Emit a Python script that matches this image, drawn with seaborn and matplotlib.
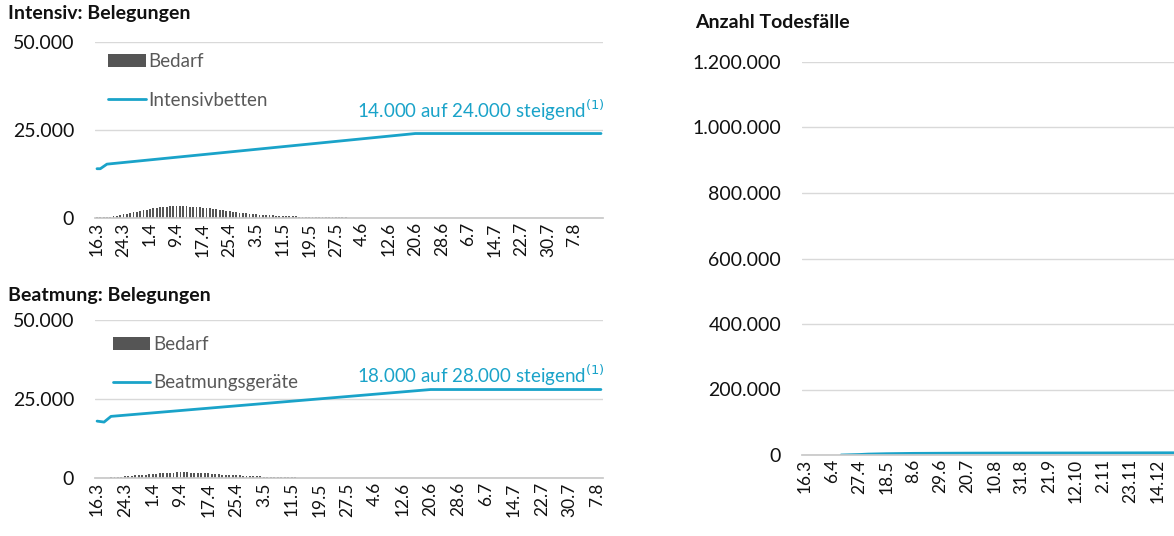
import matplotlib
matplotlib.use("Agg")
import matplotlib.pyplot as plt
import seaborn as sns
from matplotlib.ticker import FuncFormatter
from matplotlib.patches import Patch
from matplotlib.lines import Line2D

# --- data ---
# Intensiv: daily Bedarf from 16.3 on
icu_bedarf = [150, 200, 250, 300, 400, 500, 600,
              800, 1000, 1200, 1400, 1600, 1800, 2000,
              2200, 2400, 2600, 2800, 2950, 3050, 3150,
              3250, 3300, 3350, 3400, 3400, 3350, 3300,
              3250, 3200, 3100, 3000, 2900, 2800, 2700,
              2600, 2500, 2400, 2250, 2100, 1950, 1800,
              1650, 1500, 1400, 1300, 1200, 1100, 1000,
              950, 900, 850, 800, 750, 700, 650,
              600, 560, 520, 480, 450, 420, 390,
              360, 330, 300, 280, 260, 240, 220,
              200, 190, 180, 170, 160, 150, 140,
              130, 130, 120, 120, 110, 110, 100,
              100, 100, 90, 90, 90, 90, 80,
              80, 80, 80, 80, 70, 70, 70,
              70, 70, 70, 60, 60, 60, 60,
              60, 60, 60, 60, 50, 50, 50,
              50, 50, 50, 50, 50, 50, 50,
              50, 50, 50, 50, 50, 50, 50,
              50, 50, 50, 50, 50, 50, 50,
              50, 50, 50, 50, 50, 50, 50,
              50, 50, 50, 50, 50, 50, 50,
              50, 50, 50, 50, 50, 50]
icu_beds_day = [0, 1, 3, 96, 152]
icu_beds = [14000, 14000, 15300, 24000, 24000]

# Beatmung: daily Bedarf from 16.3 on
vent_bedarf = [50, 80, 100, 150, 200, 250, 300,
               400, 500, 600, 700, 800, 900, 1000,
               1100, 1200, 1300, 1400, 1500, 1550, 1600,
               1650, 1700, 1750, 1800, 1800, 1750, 1700,
               1650, 1600, 1550, 1500, 1450, 1400, 1300,
               1200, 1100, 1000, 950, 900, 850, 800,
               750, 700, 650, 600, 550, 500, 450,
               400, 360, 330, 300, 270, 240, 210,
               190, 170, 150, 130, 120, 110, 100,
               90, 90, 80, 80, 70, 70, 60,
               60, 60, 50, 50, 50, 50, 50,
               40, 40, 40, 40, 40, 40, 40,
               40, 40, 40, 40, 40, 40, 40,
               30, 30, 30, 30, 30, 30, 30,
               30, 30, 30, 30, 30, 30, 30,
               30, 30, 30, 30, 30, 30, 30,
               30, 30, 30, 30, 30, 30, 30,
               30, 30, 30, 30, 30, 30, 30,
               30, 30, 30, 30, 30, 30, 30,
               30, 30, 30, 30, 30, 30, 30,
               30, 30, 30, 30, 30, 30]
vent_dev_day = [0, 2, 4, 96, 145]
vent_dev = [18000, 17700, 19500, 28000, 28000]

left_ticks = ["16.3", "24.3", "1.4", "9.4", "17.4", "25.4", "3.5", "11.5",
              "19.5", "27.5", "4.6", "12.6", "20.6", "28.6", "6.7", "14.7",
              "22.7", "30.7", "7.8"]

# Anzahl Todesfälle
death_day = [28, 42, 49, 63, 84, 105, 126, 147, 168, 189, 210, 231, 252, 273, 286]
deaths = [0, 1500, 2800, 4000, 5000, 5400, 5700, 5900, 6000, 6100, 6200,
          6300, 6500, 6700, 6800]
right_ticks = ["16.3", "6.4", "27.4", "18.5", "8.6", "29.6", "20.7", "10.8",
               "31.8", "21.9", "12.10", "2.11", "23.11", "14.12"]

TEAL = "#1aa3c9"
GREY_BAR = "#555555"
GRID = "#d9d9d9"

sns.set_theme(style="white")
plt.rcParams["font.family"] = ["Lato", "DejaVu Sans"]

fmt = FuncFormatter(lambda v, p: f"{int(v):,}".replace(",", "."))

fig = plt.figure(figsize=(11.74, 5.36), dpi=100)


def style_axis(ax, yticks, pad):
    ax.set_yticks(yticks)
    ax.yaxis.set_major_formatter(fmt)
    ax.grid(axis="y", color=GRID, lw=1)
    ax.set_axisbelow(True)
    for s in ["top", "right", "left"]:
        ax.spines[s].set_visible(False)
    ax.spines["bottom"].set_color("#c8c8c8")
    ax.tick_params(axis="y", length=0, pad=pad, labelsize=14, labelcolor="#111111")
    ax.tick_params(axis="x", length=0, pad=3, labelsize=12.5, labelcolor="#111111",
                   labelrotation=90)
    ax.set_xlabel("")
    ax.set_ylabel("")


def left_chart(rect, bedarf, ldays, lvals, lname, note, leg_anchor, note_y):
    ax = fig.add_axes(rect)
    days = list(range(len(bedarf)))
    sns.barplot(x=days, y=bedarf, native_scale=True, color=GREY_BAR, saturation=1,
                width=0.55, errorbar=None, ax=ax, linewidth=0)
    sns.lineplot(x=ldays, y=lvals, color=TEAL, lw=2, ax=ax)
    ax.set_ylim(0, 50000)
    ax.set_xlim(-0.6, len(bedarf) - 0.4)
    style_axis(ax, [0, 25000, 50000], 15)
    ax.set_xticks(range(0, 8 * len(left_ticks), 8))
    ax.set_xticklabels(left_ticks)
    handles = [Patch(facecolor=GREY_BAR, edgecolor="none"),
               Line2D([], [], color=TEAL, lw=2)]
    ax.legend(handles, ["Bedarf", lname], loc="upper left", bbox_to_anchor=leg_anchor,
              frameon=False, fontsize=13.5, labelcolor="#595959", handlelength=2.0,
              handletextpad=0.15, labelspacing=1.15, borderpad=0, borderaxespad=0)
    ax.text(1.004, note_y, note, transform=ax.transAxes, ha="right", va="center",
            color=TEAL, fontsize=13.5)
    return ax


left_chart([95 / 1174, 318 / 536, 508 / 1174, 176 / 536], icu_bedarf, icu_beds_day,
           icu_beds, "Intensivbetten", r"14.000 auf 24.000 steigend$^{(1)}$",
           (0.026, 0.935), 0.614)
left_chart([95 / 1174, 58 / 536, 508 / 1174, 158 / 536], vent_bedarf, vent_dev_day,
           vent_dev, "Beatmungsgeräte", r"18.000 auf 28.000 steigend$^{(1)}$",
           (0.035, 0.90), 0.652)

# right chart
ax = fig.add_axes([802 / 1174, 81 / 536, 372 / 1174, 393 / 536])
sns.lineplot(x=death_day, y=deaths, color=TEAL, lw=2, ax=ax)
ax.set_ylim(0, 1200000)
ax.set_xlim(-2.3, 286)
style_axis(ax, range(0, 1200001, 200000), 15)
ax.set_xticks(range(0, 21 * len(right_ticks), 21))
ax.set_xticklabels(right_ticks)

fig.text(8 / 1174, 1 - 14 / 536, "Intensiv: Belegungen", fontsize=14, weight="bold",
         va="center", color="#111111")
fig.text(8 / 1174, 1 - 295 / 536, "Beatmung: Belegungen", fontsize=14, weight="bold",
         va="center", color="#111111")
fig.text(695 / 1174, 1 - 22 / 536, "Anzahl Todesfälle", fontsize=14, weight="bold",
         va="center", color="#111111")

fig.savefig("out.png", dpi=100)
